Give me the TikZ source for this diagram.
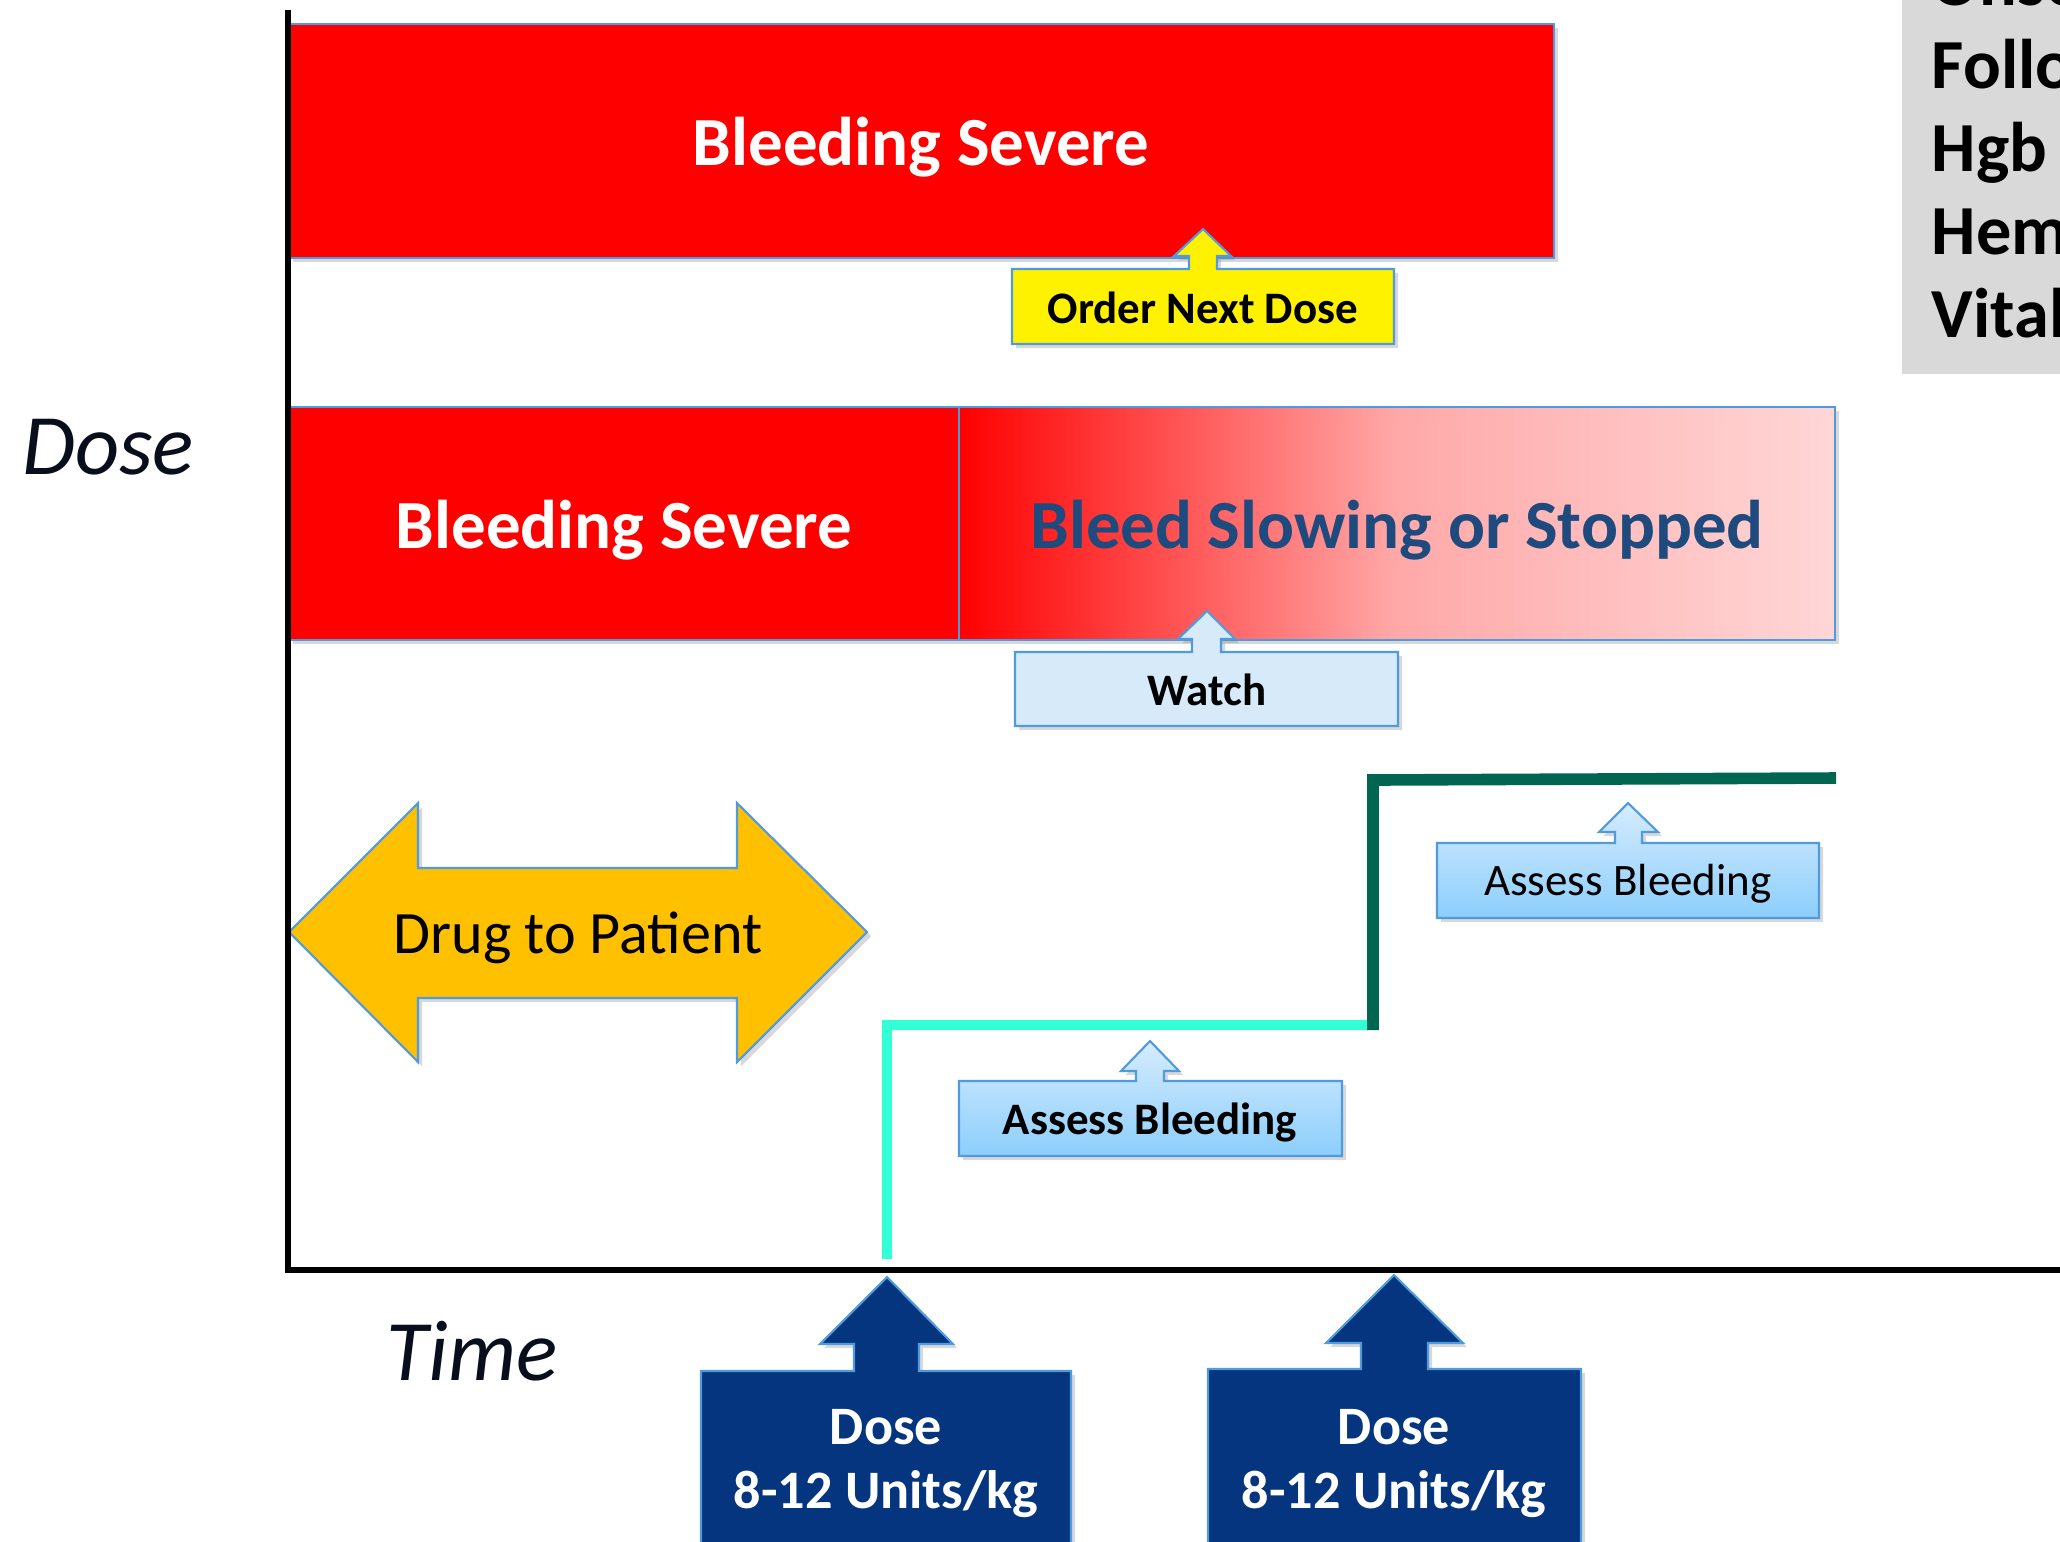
\documentclass[tikz,border=0pt]{standalone}
\usepackage{fontspec}
\setmainfont{Carlito}
\usetikzlibrary{shadows}

\definecolor{boxline}{RGB}{79,155,222}
\definecolor{navy}{RGB}{6,53,128}
\definecolor{slowtext}{RGB}{31,74,126}
\definecolor{gold}{RGB}{255,192,0}
\definecolor{cyanstep}{RGB}{51,255,214}
\definecolor{greenstep}{RGB}{0,102,82}
\definecolor{watchblue}{RGB}{214,234,250}
\definecolor{assesstop}{RGB}{214,236,253}
\definecolor{assessbot}{RGB}{140,206,252}
\definecolor{panelgray}{RGB}{217,217,217}
\definecolor{inkblack}{RGB}{8,14,28}

\begin{document}
\begin{tikzpicture}[x=0.01cm,y=-0.01cm,
  shadowbox/.style={draw=boxline,line width=0.6pt,
    drop shadow={opacity=0.3,shadow xshift=1.2pt,shadow yshift=-1.2pt}},
  bigtext/.style={font=\fontsize{19.6}{23}\selectfont\bfseries},
  calltext/.style={font=\fontsize{12.8}{15}\selectfont\bfseries},
  dosetext/.style={font=\fontsize{15.4}{18.2}\selectfont\bfseries,text=white,align=center},
  axistext/.style={font=\fontsize{24.5}{28}\selectfont\itshape,text=inkblack},
  paneltext/.style={font=\fontsize{20}{24}\selectfont\bfseries,anchor=base west,inner sep=0pt}]
\clip (0,0) rectangle (2060,1541);
\fill[white] (0,0) rectangle (2060,1541);

\fill[panelgray] (1902,0) rectangle (2060,374);
\node[paneltext] (onse) at (1931,5) {Onse};
\node[paneltext] (follo) at (1931,88) {Follo};
\node[paneltext] (hgb) at (1931,171) {Hgb};
\node[paneltext] (hem) at (1931,254) {Hem};
\node[paneltext] (vital) at (1931,337) {Vital};

\draw[shadowbox,fill=red] (289,24) rectangle (1554,258);
\node[bigtext,text=white] (severetop) at (921,147) {Bleeding Severe};

\draw[shadowbox,fill=yellow] (1012,269) -- (1189,269) -- (1189,256) -- (1174,256) -- (1203,229)
  -- (1231,256) -- (1217,256) -- (1217,269) -- (1394,269) -- (1394,344) -- (1012,344) -- cycle;
\node[calltext] (nextdose) at (1203,308) {Order Next Dose};

\draw[shadowbox,fill=red] (289,407) rectangle (959,640);
\draw[shadowbox,left color=red,right color=red!16,middle color=red!34] (959,407) rectangle (1835,640);
\node[bigtext,text=white] (severemid) at (624,530) {Bleeding Severe};
\node[bigtext,text=slowtext] (slowing) at (1397,530) {Bleed Slowing or Stopped};

\draw[shadowbox,fill=watchblue] (1015,652) -- (1192,652) -- (1192,639) -- (1178,639) -- (1207,611)
  -- (1235,639) -- (1221,639) -- (1221,652) -- (1398,652) -- (1398,726) -- (1015,726) -- cycle;
\node[calltext] (watch) at (1207,690) {Watch};

\draw[shadowbox,fill=gold] (289,932) -- (418,803) -- (418,868) -- (737,868) -- (737,803) -- (867,932)
  -- (737,1062) -- (737,998) -- (418,998) -- (418,1062) -- cycle;
\node[font=\fontsize{17.1}{20}\selectfont] (drug) at (578,938) {Drug to Patient};

\coordinate (c0) at (887,1259);
\coordinate (c1) at (887,1025);
\coordinate (c2) at (1373,1025);
\draw[cyanstep,line width=3.1pt] (c0) -- (c1) -- (c2);
\coordinate (g0) at (1373,1030);
\coordinate (g1) at (1373,780);
\coordinate (g2) at (1836,778);
\draw[greenstep,line width=3.3pt] (g0) -- (g1) -- (g2);

\draw[shadowbox,top color=assesstop,bottom color=assessbot] (1437,843) -- (1615,843) -- (1615,832)
  -- (1599,832) -- (1628,803) -- (1658,832) -- (1642,832) -- (1642,843) -- (1819,843) -- (1819,918)
  -- (1437,918) -- cycle;
\node[font=\fontsize{12.8}{15}\selectfont] (assesstwo) at (1628,884) {Assess Bleeding};

\draw[shadowbox,top color=assesstop,bottom color=assessbot] (959,1081) -- (1136,1081) -- (1136,1071)
  -- (1121,1071) -- (1150,1041) -- (1179,1071) -- (1164,1071) -- (1164,1081) -- (1342,1081) -- (1342,1156)
  -- (959,1156) -- cycle;
\node[calltext] (assessone) at (1150,1122) {Assess Bleeding};

\draw[shadowbox,fill=navy] (701,1371) -- (854,1371) -- (854,1344) -- (820,1344) -- (887,1277)
  -- (953,1344) -- (919,1344) -- (919,1371) -- (1071,1371) -- (1071,1570) -- (701,1570) -- cycle;
\node[dosetext] (doseone) at (886,1463) {Dose\\8-12 Units/kg};

\draw[shadowbox,fill=navy] (1208,1369) -- (1361,1369) -- (1361,1343) -- (1326,1343) -- (1394,1275)
  -- (1463,1343) -- (1428,1343) -- (1428,1369) -- (1581,1369) -- (1581,1570) -- (1208,1570) -- cycle;
\node[dosetext] (dosetwo) at (1394,1463) {Dose\\8-12 Units/kg};

\coordinate (ytop) at (288,10);
\coordinate (origin) at (288,1270);
\coordinate (xend) at (2060,1270);
\draw[line width=1.5pt] (ytop) -- (origin) -- (xend);
\node[axistext] (doselabel) at (108,447) {Dose};
\node[axistext] (timelabel) at (472,1351) {Time};
\end{tikzpicture}
\end{document}
